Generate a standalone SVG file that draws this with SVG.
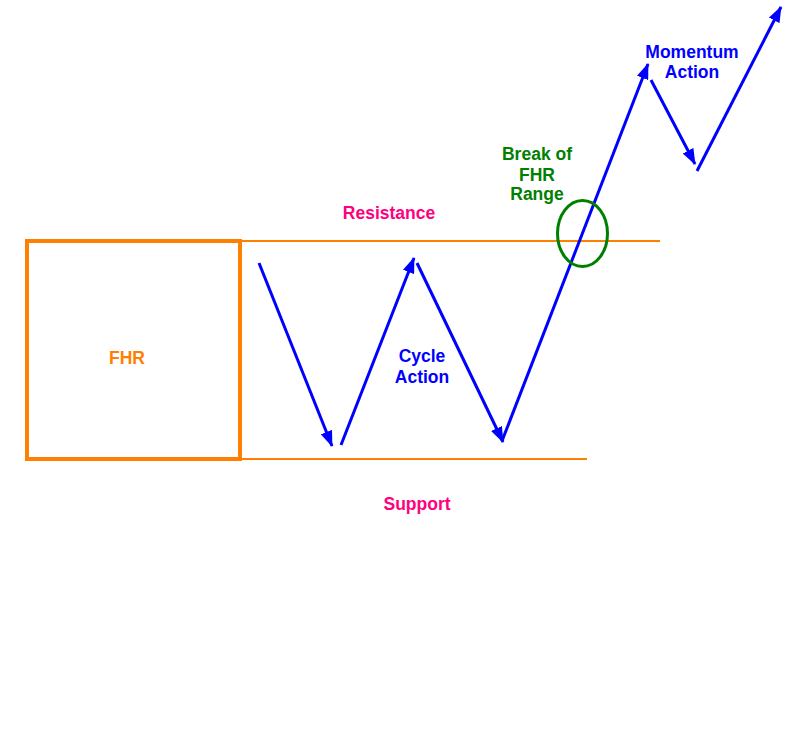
<svg xmlns="http://www.w3.org/2000/svg" width="790" height="750" viewBox="0 0 790 750">
<defs>
<marker id="ah" markerUnits="userSpaceOnUse" markerWidth="16" markerHeight="12" viewBox="0 0 16 12" refX="15" refY="6" orient="auto">
<path d="M0,0 L16,6 L0,12 Z" fill="#0000FF"/>
</marker>
<style>
.t{font-family:"Liberation Sans",Arial,sans-serif;font-weight:bold;font-size:17.5px;text-anchor:middle}
.or{stroke:#FF8000;fill:none}
.ar{stroke:#0000FF;stroke-width:3;fill:none;marker-end:url(#ah)}
</style>
</defs>
<rect width="790" height="750" fill="#FFFFFF"/>
<g id="fhr">
<rect class="or" x="27" y="241" width="213" height="218" stroke-width="4"/>
<text class="t" x="127" y="364" fill="#FF8000">FHR</text>
</g>
<g id="resistance">
<line class="or" x1="240" y1="241" x2="660" y2="241" stroke-width="2"/>
<text class="t" x="389" y="219" fill="#FF0080">Resistance</text>
</g>
<g id="support">
<line class="or" x1="240" y1="459" x2="587" y2="459" stroke-width="2"/>
<text class="t" x="417" y="510" fill="#FF0080">Support</text>
</g>
<g id="connectors">
<line class="ar" x1="259" y1="263" x2="332" y2="446"/>
<line class="ar" x1="341" y1="445" x2="414" y2="258"/>
<line class="ar" x1="417" y1="263" x2="503" y2="442"/>
<line class="ar" x1="502" y1="441" x2="648" y2="64"/>
<line class="ar" x1="651" y1="80" x2="695" y2="164"/>
<line class="ar" x1="697" y1="171" x2="781" y2="7"/>
</g>
<g id="cycle">
<text class="t" x="422" y="362" fill="#0000FF">Cycle</text>
<text class="t" x="422" y="383" fill="#0000FF">Action</text>
</g>
<g id="break">
<ellipse cx="582.5" cy="233.5" rx="25" ry="33" fill="none" stroke="#008000" stroke-width="3"/>
<text class="t" x="537" y="160" fill="#008000">Break of</text>
<text class="t" x="537" y="181" fill="#008000">FHR</text>
<text class="t" x="537" y="200" fill="#008000">Range</text>
</g>
<g id="momentum">
<text class="t" x="692" y="58" fill="#0000FF">Momentum</text>
<text class="t" x="692" y="78" fill="#0000FF">Action</text>
</g>
</svg>
